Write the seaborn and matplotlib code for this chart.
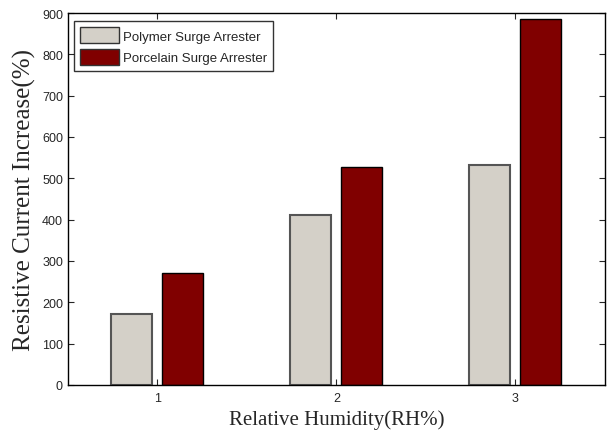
import pandas as pd
import matplotlib.pyplot as plt
import seaborn as sns

# valores
humidity = ['1', '2', '3']
polymer = [172, 410, 531]
porcelain = [272, 528, 885]
series_names = ['Polymer Surge Arrester', 'Porcelain Surge Arrester']
y_ticks = [0, 100, 200, 300, 400, 500, 600, 700, 800, 900]

df = pd.DataFrame({
    'humidity': humidity * 2,
    'value': polymer + porcelain,
    'tipo': [series_names[0]] * 3 + [series_names[1]] * 3,
})

sns.set_style('ticks')
plt.rcParams['font.family'] = ['Liberation Sans', 'DejaVu Sans']
plt.rcParams['xtick.direction'] = 'in'
plt.rcParams['ytick.direction'] = 'in'

fig = plt.figure(figsize=(6.11, 4.39), dpi=100)
ax = fig.add_axes([0.111, 0.121, 0.879, 0.847])

sns.barplot(data=df, x='humidity', y='value', hue='tipo',
            palette=['#D4D0C8', '#800000'], width=0.5714, gap=0.2,
            edgecolor='black', linewidth=1, saturation=1, ax=ax)

# bordas das barras: cinza escuro para o polímero
for patch in ax.containers[0]:
    patch.set_edgecolor('#555555')
    patch.set_linewidth(1.5)

ax.set_xlim(-0.5, 2.5)
ax.set_ylim(0, 900)
ax.set_yticks(y_ticks)
ax.tick_params(axis='both', labelsize=9, length=4, width=0.8,
               top=True, right=True)
ax.tick_params(axis='x', pad=5)
for spine in ax.spines.values():
    spine.set_visible(True)
    spine.set_linewidth(1)
    spine.set_color('black')

ax.set_xlabel('Relative Humidity(RH%)', family=['Liberation Serif'], fontsize=15, labelpad=4)
ax.set_ylabel('Resistive Current Increase(%)', family=['Liberation Serif'], fontsize=18, labelpad=4)

handles, labels = ax.get_legend_handles_labels()
for h in handles:
    h.set_edgecolor('#333333')
leg = ax.legend(handles, labels, loc='upper left', fontsize=9.5, fancybox=False,
                frameon=True, edgecolor='black', handlelength=3.0, handleheight=1.5,
                borderpad=0.45, labelspacing=0.4, handletextpad=0.3,
                borderaxespad=0, bbox_to_anchor=(0.011, 0.978))
leg.get_frame().set_linewidth(1)

fig.savefig('out.png', dpi=100)
